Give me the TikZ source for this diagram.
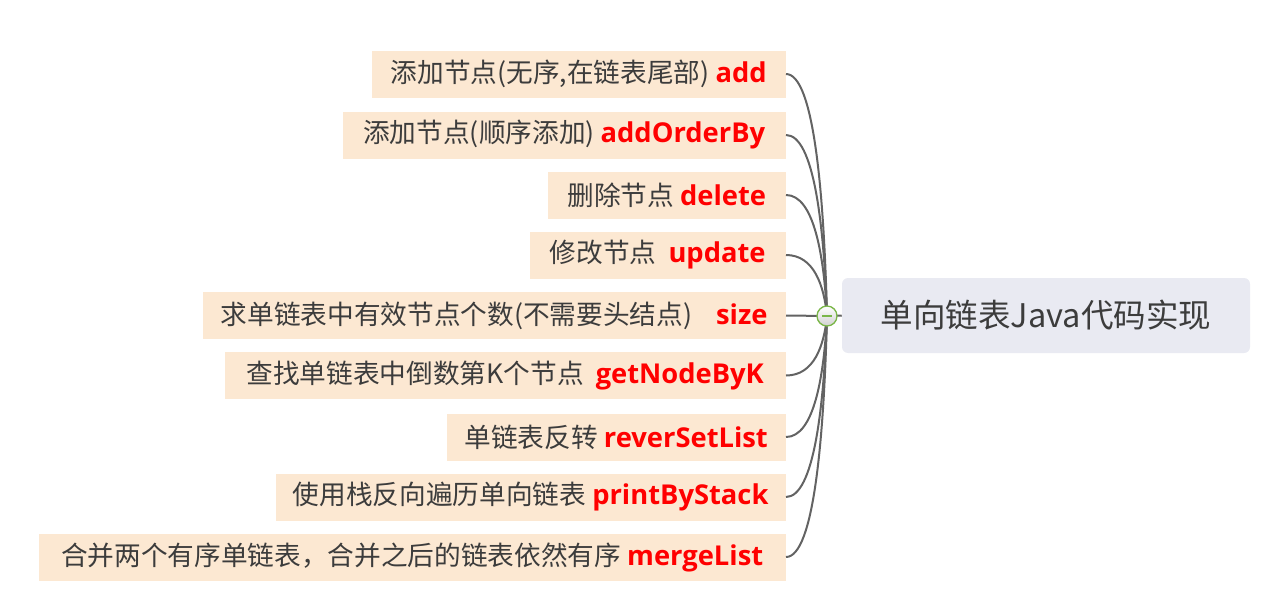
\documentclass[tikz,border=0pt]{standalone}
\usepackage{fontspec}
\setmainfont{Noto Sans CJK SC}
\newfontfamily\kwfont{Open Sans}
\definecolor{boxfill}{HTML}{FCE8D2}
\definecolor{txt}{HTML}{3C3C3C}
\definecolor{kwred}{HTML}{FF0000}
\definecolor{rootfill}{HTML}{E9EAF2}
\definecolor{linegray}{HTML}{636363}
\definecolor{hubgreen}{HTML}{7AB648}
\newcommand\kw[1]{{\kwfont\bfseries\fontsize{20.5}{23}\selectfont\color{kwred}#1}}
\begin{document}
\begin{tikzpicture}[x=0.75pt,y=-0.75pt,
  item/.style={fill=boxfill, text=txt, anchor=east, minimum height=35.25pt,
    inner xsep=12pt, inner ysep=0pt, font=\fontsize{20}{23}\selectfont},
  rootbox/.style={fill=rootfill, text=txt, rounded corners=4.5pt, minimum width=306pt,
    minimum height=56.25pt, font=\fontsize{24.4}{28}\selectfont},
  conn/.style={draw=linegray, line width=1.5pt},
  hubstyle/.style={circle, draw=hubgreen, line width=1pt, minimum size=15pt, inner sep=0pt,
    top color=white, bottom color=black!18}]
\useasboundingbox (0,0) rectangle (1278,603);

\node[item, minimum width=310.5pt] (b1) at (786,74) {添加节点(无序,在链表尾部) \kw{add}};
\node[item, minimum width=332.25pt] (b2) at (786,135) {添加节点(顺序添加) \kw{addOrderBy}};
\node[item, minimum width=178.5pt] (b3) at (786,195) {删除节点 \kw{delete}};
\node[item, minimum width=192pt] (b4) at (786,255) {修改节点\ \ \kw{update}};
\node[item, minimum width=437.25pt] (b5) at (786,315.5) {求单链表中有效节点个数(不需要头结点)\ \ \ \ \kw{size}};
\node[item, minimum width=420.75pt] (b6) at (786,375.5) {查找单链表中倒数第K个节点\ \ \kw{getNodeByK}};
\node[item, minimum width=254.25pt] (b7) at (786,437) {单链表反转 \kw{reverSetList}};
\node[item, minimum width=382.5pt] (b8) at (786,497) {使用栈反向遍历单向链表 \kw{printByStack}};
\node[item, minimum width=560.25pt] (b9) at (786,557) {合并两个有序单链表，合并之后的链表依然有序 \kw{mergeList}\ };

\node[rootbox] (root) at (1046,315.5) {单向链表Java代码实现};

\coordinate (hc) at (827,316);
\draw[conn] (b1.east) .. controls +(28,0) and (824,195) .. (hc);
\draw[conn] (b2.east) .. controls +(28,0) and (824,225.5) .. (hc);
\draw[conn] (b3.east) .. controls +(28,0) and (824,255.5) .. (hc);
\draw[conn] (b4.east) .. controls +(28,0) and (824,285.5) .. (hc);
\draw[conn] (b5.east) -- (hc);
\draw[conn] (b6.east) .. controls +(28,0) and (824,346) .. (hc);
\draw[conn] (b7.east) .. controls +(28,0) and (824,376.5) .. (hc);
\draw[conn] (b8.east) .. controls +(28,0) and (824,406.5) .. (hc);
\draw[conn] (b9.east) .. controls +(28,0) and (824,436.5) .. (hc);
\draw[conn] (hc) -- (root.west);

\node[hubstyle] (hub) at (hc) {};
\draw[hubgreen, line width=1.2pt] (hub.center) +(-5,0) -- +(5,0);
\end{tikzpicture}
\end{document}
